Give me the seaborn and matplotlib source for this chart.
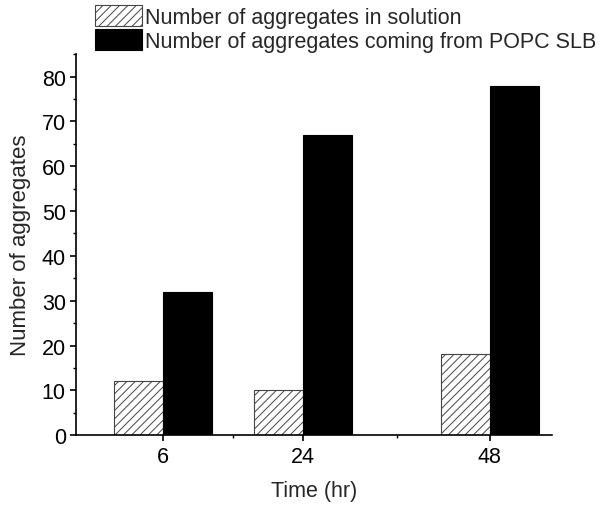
import matplotlib
matplotlib.use("Agg")
import matplotlib.pyplot as plt
from matplotlib.ticker import MultipleLocator, FixedLocator
import seaborn as sns
import pandas as pd

times = [6, 24, 48]
series_names = ["Number of aggregates in solution",
                "Number of aggregates coming from POPC SLB"]
solution_counts = [12, 10, 18]
slb_counts = [32, 67, 78]

df = pd.DataFrame({
    "Time (hr)": times * 2,
    "count": solution_counts + slb_counts,
    "series": [series_names[0]] * 3 + [series_names[1]] * 3,
})

sns.set_theme(style="ticks")
plt.rcParams["font.family"] = ["Liberation Sans", "DejaVu Sans"]
plt.rcParams["hatch.linewidth"] = 0.7

FS = 15.5

fig = plt.figure(figsize=(6.0, 5.06), dpi=100)
ax = fig.add_axes([0.127, 0.138, 0.793, 0.753])

sns.barplot(data=df, x="Time (hr)", y="count", hue="series",
            hue_order=series_names, native_scale=True, width=0.7,
            palette=["white", "black"], dodge=True, ax=ax,
            edgecolor="#555555", linewidth=0.8, errorbar=None)

handles = []
for i, cont in enumerate(ax.containers):
    for p in cont.patches:
        if i == 0:
            p.set_hatch("////")
            p.set_edgecolor("#444444")
        else:
            p.set_edgecolor("black")
    handles.append(cont.patches[0])

if ax.get_legend() is not None:
    ax.get_legend().remove()

ax.set_xlim(-5.2, 56)
ax.set_ylim(0, 85)
ax.set_xticks(times)
ax.set_xticklabels([str(t) for t in times])
ax.xaxis.set_minor_locator(FixedLocator([15, 36]))
ax.yaxis.set_major_locator(MultipleLocator(10))
ax.yaxis.set_minor_locator(MultipleLocator(5))

for s in ["top", "right"]:
    ax.spines[s].set_visible(False)
for s in ["left", "bottom"]:
    ax.spines[s].set_linewidth(1.2)
    ax.spines[s].set_color("black")

ax.tick_params(axis="both", which="major", direction="out", length=4.5,
               width=1.2, labelsize=FS, colors="black", pad=3)
ax.tick_params(axis="both", which="minor", direction="out", length=2.5,
               width=1.0, colors="black")
ax.set_xlabel("Time (hr)", fontsize=FS, labelpad=10)
ax.set_ylabel("Number of aggregates", fontsize=16, labelpad=8)

fig.legend(handles, series_names, loc="upper left",
           bbox_to_anchor=(0.158, 0.988), frameon=False, fontsize=FS,
           handlelength=2.2, handleheight=1.1, handletextpad=0.15,
           labelspacing=0.08, borderpad=0, borderaxespad=0)

fig.savefig("out.png", dpi=100)
